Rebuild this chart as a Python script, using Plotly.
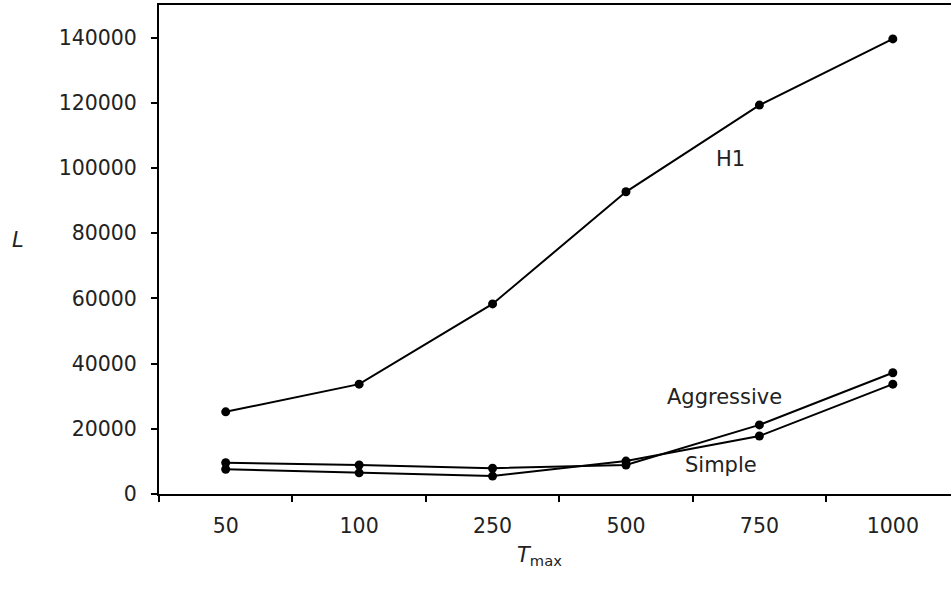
import plotly.graph_objects as go

# T_max settings on the category axis
t_max = ["50", "100", "250", "500", "750", "1000"]

# L for each strategy
h1 = [25200, 33700, 58300, 92700, 119300, 139600]
aggressive = [9600, 8900, 7900, 8900, 21200, 37200]
simple = [7600, 6500, 5500, 10100, 17800, 33700]

FONT = "DejaVu Sans"
TEXT = "#222222"

fig = go.Figure()
for name, vals in [("H1", h1), ("Aggressive", aggressive), ("Simple", simple)]:
    fig.add_trace(go.Scatter(
        x=t_max, y=vals, name=name, mode="lines+markers",
        line=dict(color="black", width=2),
        marker=dict(color="black", size=9, symbol="circle"),
        showlegend=False,
    ))

# series labels
for text, x, y in [("H1", 3.78, 102800), ("Aggressive", 3.74, 29750), ("Simple", 3.71, 8900)]:
    fig.add_annotation(x=x, y=y, xref="x", yref="y", text=text, showarrow=False,
                       xanchor="center", yanchor="middle",
                       font=dict(family=FONT, size=21, color=TEXT))

# axis titles
fig.add_annotation(x=0.481, y=-0.127, xref="paper", yref="paper",
                   text="<i>T</i><sub>max</sub>", showarrow=False,
                   xanchor="center", yanchor="middle",
                   font=dict(family=FONT, size=21, color=TEXT))
fig.add_annotation(x=-0.178, y=0.519, xref="paper", yref="paper",
                   text="<i>L</i>", showarrow=False,
                   xanchor="center", yanchor="middle",
                   font=dict(family=FONT, size=21, color=TEXT))

fig.update_layout(
    width=951, height=606,
    margin=dict(l=159, r=0, t=5, b=112),
    paper_bgcolor="white", plot_bgcolor="white",
    font=dict(family=FONT, size=20, color=TEXT),
    xaxis=dict(
        type="category", range=[-0.5, 5.436],
        tickson="boundaries", ticks="outside", ticklen=6, tickwidth=2, tickcolor="black",
        showline=True, linewidth=2, linecolor="black", mirror=True,
        showgrid=False, zeroline=False, ticklabelstandoff=12,
        tickfont=dict(family=FONT, size=20.5, color=TEXT),
    ),
    yaxis=dict(
        range=[0, 150000], dtick=20000, tick0=0, tickformat="d",
        ticks="outside", ticklen=6, tickwidth=2, tickcolor="black",
        showline=True, linewidth=2, linecolor="black",
        showgrid=False, zeroline=False, ticklabelstandoff=10,
        tickfont=dict(family=FONT, size=20.5, color=TEXT),
    ),
)

fig.write_html("out.html")
